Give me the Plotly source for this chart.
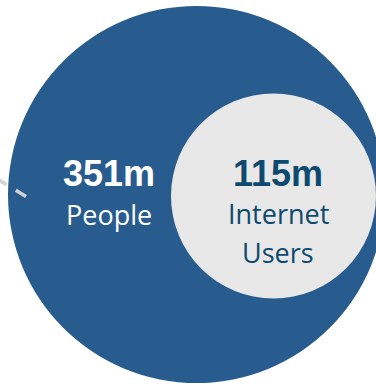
import plotly.graph_objects as go

# Data
labels = ["People", "Internet Users"]
values_m = [351, 115]
value_text = [f"{v}m" for v in values_m]
label_lines = [["People"], ["Internet", "Users"]]

W, H = 376, 384
BLUE = "#285C8E"
GREY = "#E8E8E8"
NAVY = "#0E4A6F"

fig = go.Figure()
fig.add_trace(go.Scatter(x=[0, W], y=[0, H], mode="markers",
                         marker=dict(opacity=0), hoverinfo="skip", showlegend=False))

# circles (centre x, centre y, radius) in pixel-like axis units
circles = [(196.5, 194.5, 188.5, BLUE), (273.5, 196.0, 102.5, GREY)]
shapes = []
for cx, cy, r, col in circles:
    shapes.append(dict(type="circle", xref="x", yref="y",
                       x0=cx - r, x1=cx + r, y0=cy - r, y1=cy + r,
                       fillcolor=col, line=dict(width=0), layer="below"))
# dashed leader line on the left
shapes.append(dict(type="line", xref="x", yref="y", x0=26, y0=196.5, x1=-12, y1=173.3,
                   line=dict(color="#D3D3D3", width=3.5, dash="12px,11px"), layer="above"))

annotations = []
text_pos = [(109, [173.5], [214.5], "white"), (278, [173.5], [213.5, 252.5], NAVY)]
for i, (x, ny, ly, col) in enumerate(text_pos):
    annotations.append(dict(x=x, y=ny[0], xref="x", yref="y", text=f"<b>{value_text[i]}</b>",
                            showarrow=False, xanchor="center", yanchor="middle",
                            font=dict(family="Liberation Sans, Arial", size=36, color=col)))
    for line, yy in zip(label_lines[i], ly):
        annotations.append(dict(x=x, y=yy, xref="x", yref="y", text=line,
                                showarrow=False, xanchor="center", yanchor="middle",
                                font=dict(family="Open Sans", size=27, color=col)))

fig.update_layout(
    width=W, height=H, margin=dict(l=0, r=0, t=0, b=0),
    paper_bgcolor="white", plot_bgcolor="white",
    xaxis=dict(range=[0, W], visible=False, fixedrange=True),
    yaxis=dict(range=[H, 0], visible=False, fixedrange=True),
    shapes=shapes, annotations=annotations, showlegend=False,
)
fig.write_html("out.html", config={"displayModeBar": False})
